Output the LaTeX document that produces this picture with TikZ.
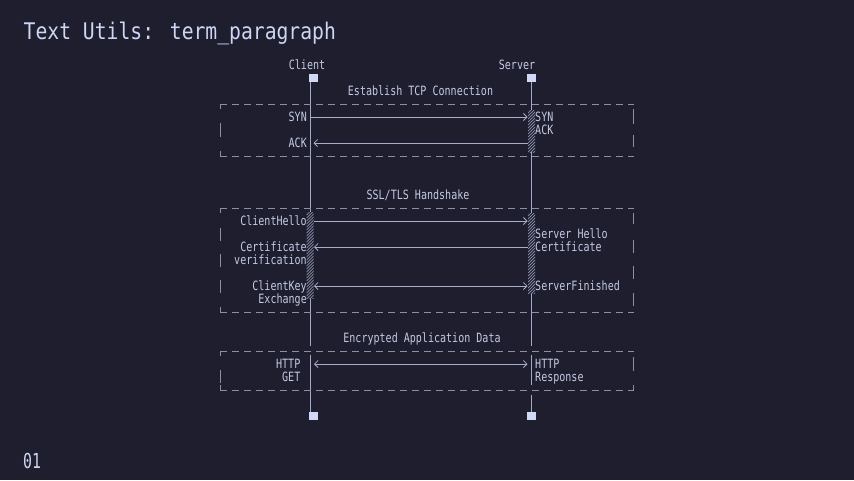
\documentclass[tikz,border=0pt]{standalone}
\usepackage{fontspec}
\usetikzlibrary{arrows.meta}
\newfontfamily\dmono[FakeStretch=0.785]{DejaVu Sans Mono}
\newfontfamily\tmono[FakeStretch=0.86]{DejaVu Sans Mono}
\newfontfamily\nmono[FakeStretch=0.72]{DejaVu Sans Mono}
\definecolor{bg}{HTML}{1E1E2E}
\definecolor{txt}{HTML}{CDD6F4}
\definecolor{dtxt}{HTML}{C3CAE4}
\definecolor{lifec}{HTML}{A4AAC6}
\definecolor{dashc}{HTML}{8A90AA}
\definecolor{msgc}{HTML}{A6ADC8}
\definecolor{boxc}{HTML}{D0D8F6}
\definecolor{hatchc}{HTML}{8C92AC}
\tikzset{
  lbl/.style={font=\dmono\fontsize{12.8}{13}\selectfont, text=dtxt, inner sep=0pt, text height=9.3pt, text depth=0pt},
  lr/.style={lbl, anchor=east},
  ll/.style={lbl, anchor=west},
  lc/.style={lbl, anchor=center},
  lbox/.style={fill=boxc, draw=none, minimum size=8.5pt, inner sep=0pt},
  life/.style={draw=lifec, line width=1.1pt},
  dline/.style={draw=dashc, line width=1pt},
  hdash/.style={dline, dash pattern=on 7pt off 5pt},
  msg/.style={draw=msgc, line width=0.8pt},
  tip/.tip={Straight Barb[length=3.5pt,width=7pt,line width=0.8pt]},
  hatchline/.style={draw=hatchc, line width=0.7pt}
}
\newcommand\hatchbar[4]{%
  \begin{scope}
    \clip (#1,#2) rectangle (#3,#4);
    \fill[bg] (#1,#2) rectangle (#3,#4);
    \foreach \t in {0,3,...,120}{\draw[hatchline] ({#1},{#2+\t}) -- ++(10,-10);}
  \end{scope}}
\begin{document}
\begin{tikzpicture}[x=1pt,y=-1pt]
\fill[bg] (0,0) rectangle (854,480);
\useasboundingbox (0,0) rectangle (854,480);

% title and page number
\node[font=\tmono\fontsize{22.9}{24}\selectfont, text=txt, inner sep=0pt, text height=16.7pt, text depth=0pt, anchor=west] (title) at (23.5,31) {Text Utils: term\_paragraph};
\node[font=\nmono\fontsize{20.6}{22}\selectfont, text=txt, inner sep=0pt, text height=15pt, text depth=0pt, anchor=west] (pnum) at (23,461) {01};

% participants
\node[lc] (client) at (307,65) {Client};
\node[lc] (server) at (517,65) {Server};

% lifelines
\coordinate (c0) at (310.5,82);
\coordinate (c1) at (310.5,346);
\coordinate (c2) at (310.5,355);
\coordinate (c3) at (310.5,412);
\coordinate (s0) at (531.3,82);
\coordinate (s1) at (531.3,346);
\coordinate (s2) at (531.3,355);
\coordinate (s3) at (531.3,385);
\coordinate (s4) at (531.3,395);
\coordinate (s5) at (531.3,412);
\draw[life] (c0) -- (c1);
\draw[life] (c2) -- (c3);
\draw[life] (s0) -- (s1);
\draw[life] (s2) -- (s3);
\draw[life] (s4) -- (s5);

\node[lbox] (cbt) at (313.5,78) {};
\node[lbox] (sbt) at (531.5,78) {};
\node[lbox] (cbb) at (313.5,416) {};
\node[lbox] (sbb) at (531.5,416) {};

% ---------- TCP box ----------
\node[lc] (tcpl) at (420.5,91) {Establish TCP Connection};
\draw[hdash] (220,104) -- (634,104);
\draw[hdash] (220,156) -- (634,156);
\draw[dline] (220,104) -- (220,109);
\draw[dline] (220,151) -- (220,156);
\draw[dline] (220,123) -- (220,137);
\draw[dline] (633.5,109) -- (633.5,124);
\draw[dline] (633.5,135) -- (633.5,147);

\hatchbar{528}{110}{535}{152}

\coordinate (m1a) at (310.5,117);
\coordinate (m1b) at (527.5,117);
\draw[msg,-tip] (m1a) -- (m1b);
\coordinate (m2a) at (528,143);
\coordinate (m2b) at (313.5,143);
\draw[msg,-tip] (m2a) -- (m2b);

\node[lr] (syn1) at (307,117) {SYN};
\node[ll] (syn2) at (535,117) {SYN};
\node[ll] (ack1) at (535,130) {ACK};
\node[lr] (ack2) at (307,143) {ACK};

% ---------- SSL box ----------
\node[lc] (ssll) at (418,195) {SSL/TLS Handshake};
\draw[hdash] (220,208) -- (634,208);
\draw[hdash] (220,312) -- (634,312);
\draw[dline] (220,208) -- (220,213);
\draw[dline] (220,307) -- (220,312);
\draw[dline] (220,228) -- (220,241);
\draw[dline] (220,254) -- (220,267);
\draw[dline] (220,280) -- (220,293);
\draw[dline] (633.5,213) -- (633.5,224);
\draw[dline] (633.5,240) -- (633.5,253);
\draw[dline] (633.5,266) -- (633.5,279);
\draw[dline] (633.5,293) -- (633.5,306);

\hatchbar{306.5}{212}{313.5}{298}
\hatchbar{528}{213}{535}{293}

\coordinate (m3a) at (313.5,221);
\coordinate (m3b) at (527.5,221);
\draw[msg,-tip] (m3a) -- (m3b);
\coordinate (m4a) at (528,247);
\coordinate (m4b) at (314,247);
\draw[msg,-tip] (m4a) -- (m4b);
\coordinate (m5a) at (314,286);
\coordinate (m5b) at (527.5,286);
\draw[msg,tip-tip] (m5a) -- (m5b);

\node[lr] (chello) at (307,221) {ClientHello};
\node[ll] (shello) at (535,234) {Server Hello};
\node[lr] (cert1) at (307,247) {Certificate};
\node[ll] (cert2) at (535,247) {Certificate};
\node[lr] (verif) at (307,260) {verification};
\node[lr] (ckey) at (307,286) {ClientKey};
\node[ll] (sfin) at (535,286) {ServerFinished};
\node[lr] (exch) at (307,299) {Exchange};

% ---------- HTTP box ----------
\node[lc] (encl) at (422,338) {Encrypted Application Data};
\draw[hdash] (220,351) -- (634,351);
\draw[hdash] (220,390) -- (634,390);
\draw[dline] (220,351) -- (220,356);
\draw[dline] (220,385) -- (220,390);
\draw[dline] (220,370) -- (220,383);
\draw[dline] (633.5,357) -- (633.5,371);
\draw[dline] (633.5,385) -- (633.5,390);

\coordinate (m6a) at (314,364);
\coordinate (m6b) at (527.5,364);
\draw[msg,tip-tip] (m6a) -- (m6b);

\node[lr] (http1) at (300.5,364) {HTTP};
\node[lr] (get) at (300.5,377) {GET};
\node[ll] (http2) at (535,364) {HTTP};
\node[ll] (resp) at (535,377) {Response};
\end{tikzpicture}
\end{document}
